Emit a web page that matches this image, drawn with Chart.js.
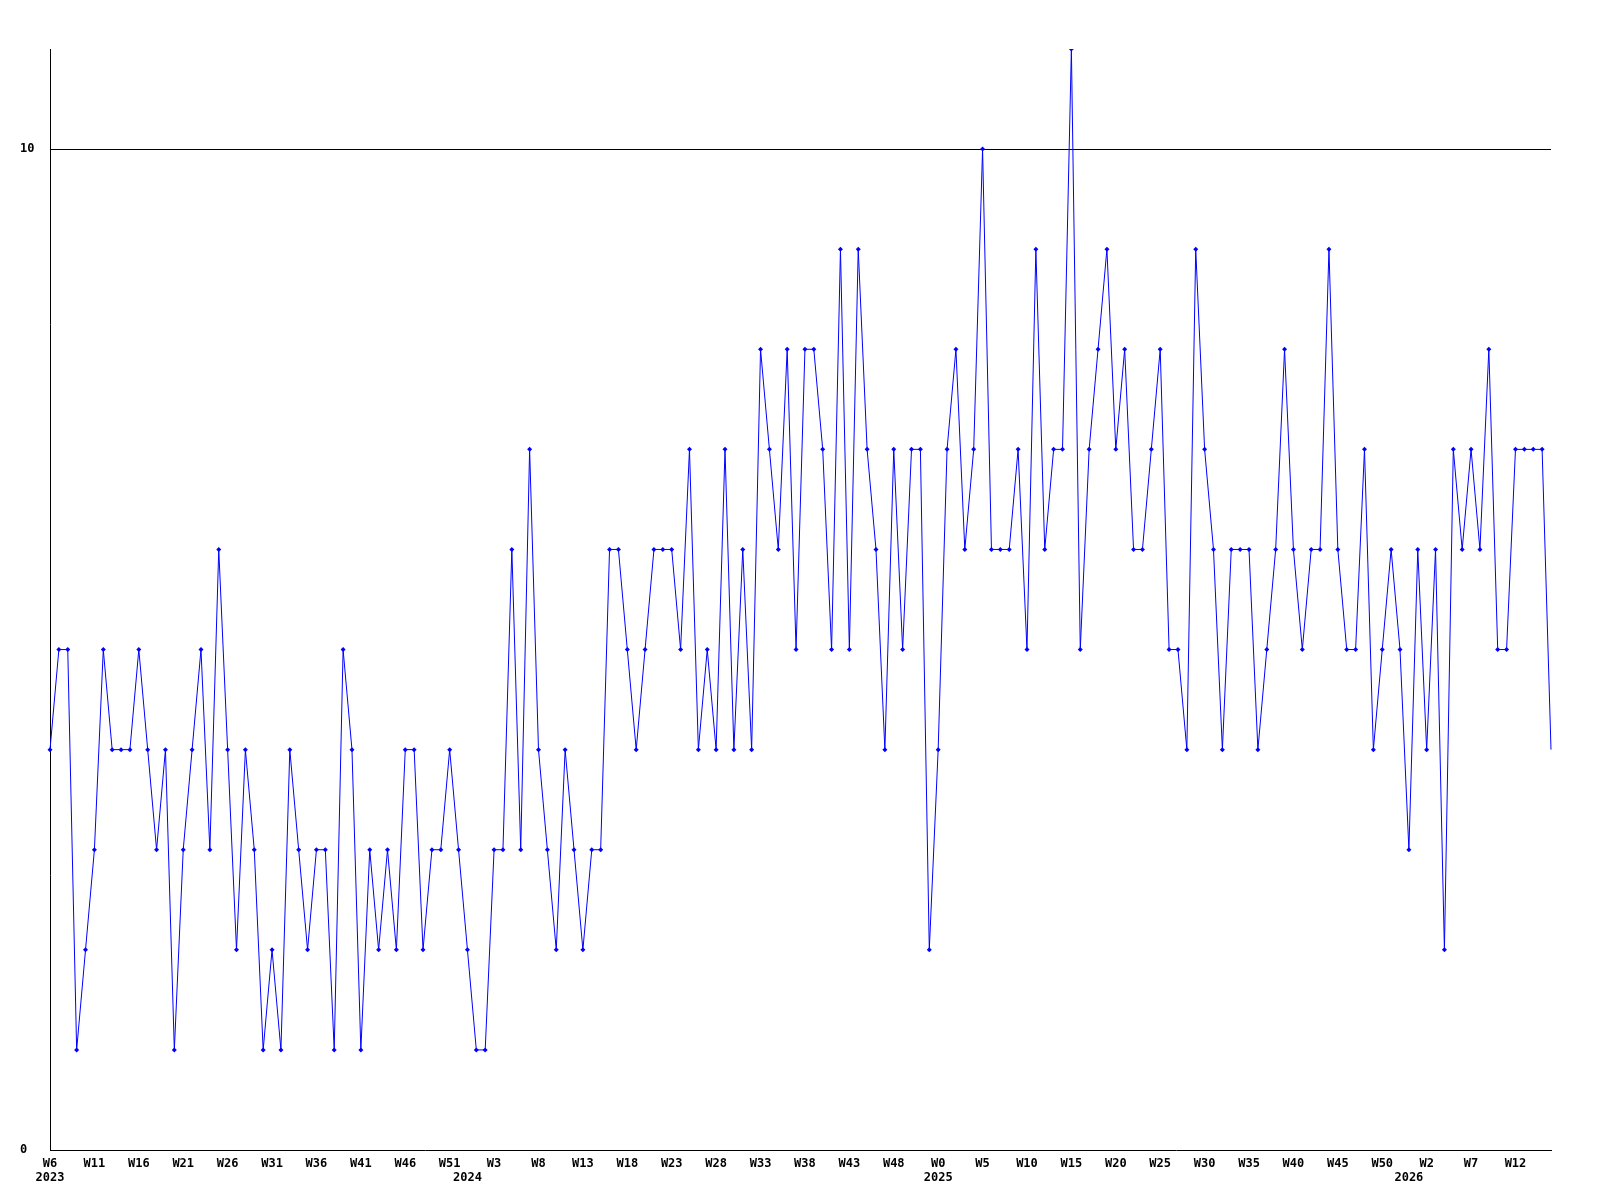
<!DOCTYPE html>
<html>
<head>
<meta charset="utf-8">
<script src="https://cdn.jsdelivr.net/npm/chart.js@4.4.0/dist/chart.umd.min.js"></script>
<style>
  body { margin: 0; background: #fff; }
  canvas { display: block; }
</style>
</head>
<body>
<canvas id="weekly" width="1600" height="1200"></canvas>
<script>
// weeks per year shown on the axis
const years = [2023, 2024, 2025, 2026];
const firstWeek = [6, 0, 0, 0];
const lastWeek = [52, 52, 52, 16];

// one value per week, W6 2023 .. W16 2026
const values = [
  4, 5, 5, 1, 2, 3, 5, 4, 4, 4,
  5, 4, 3, 4, 1, 3, 4, 5, 3, 6,
  4, 2, 4, 3, 1, 2, 1, 4, 3, 2,
  3, 3, 1, 5, 4, 1, 3, 2, 3, 2,
  4, 4, 2, 3, 3, 4, 3, 2, 1, 1,
  3, 3, 6, 3, 7, 4, 3, 2, 4, 3,
  2, 3, 3, 6, 6, 5, 4, 5, 6, 6,
  6, 5, 7, 4, 5, 4, 7, 4, 6, 4,
  8, 7, 6, 8, 5, 8, 8, 7, 5, 9,
  5, 9, 7, 6, 4, 7, 5, 7, 7, 2,
  4, 7, 8, 6, 7, 10, 6, 6, 6, 7,
  5, 9, 6, 7, 7, 11, 5, 7, 8, 9,
  7, 8, 6, 6, 7, 8, 5, 5, 4, 9,
  7, 6, 4, 6, 6, 6, 4, 5, 6, 8,
  6, 5, 6, 6, 9, 6, 5, 5, 7, 4,
  5, 6, 5, 3, 6, 4, 6, 2, 7, 6,
  7, 6, 8, 5, 5, 7, 7, 7, 7, 4
];

const yTicks = [0, 10];

let weekLabels = [];
let yearLabels = [];
years.forEach((yr, i) => {
  for (let w = firstWeek[i]; w <= lastWeek[i]; w++) {
    weekLabels.push('W' + w);
    yearLabels.push(w === firstWeek[i] ? String(yr) : '');
  }
});

const font = { family: 'DejaVu Sans Mono', size: 12, weight: 'bold' };

let weeklyChart = document.getElementById('weekly').getContext('2d');

new Chart(weeklyChart, {
  type: 'line',
  data: {
    labels: weekLabels,
    datasets: [{
      data: values,
      borderColor: '#0000ff',
      backgroundColor: '#0000ff',
      borderWidth: 1,
      tension: 0,
      pointStyle: 'rectRot',
      pointRadius: ctx => ctx.dataIndex === values.length - 1 ? 0 : 2.5,
      pointBorderWidth: 0
    }]
  },
  options: {
    responsive: false,
    animation: false,
    layout: { padding: { top: 49, right: 49, left: 20, bottom: 16 } },
    plugins: {
      legend: { display: false },
      tooltip: { enabled: false }
    },
    scales: {
      x: {
        position: 'bottom',
        offset: false,
        grid: { display: false, drawTicks: false },
        border: { color: '#000' },
        ticks: {
          autoSkip: false,
          maxRotation: 0,
          padding: 7,
          color: '#000',
          font: font,
          callback: (v, i) => i % 5 === 0 ? weekLabels[i] : ''
        },
        afterFit: s => { s.height = 21; }
      },
      year: {
        type: 'category',
        axis: 'x',
        position: 'bottom',
        offset: false,
        grid: { display: false, drawTicks: false },
        border: { display: false },
        ticks: {
          autoSkip: false,
          maxRotation: 0,
          padding: 0,
          color: '#000',
          font: font,
          callback: (v, i) => yearLabels[i]
        },
        afterFit: s => { s.height = 13; }
      },
      y: {
        min: 0,
        max: 11,
        afterBuildTicks: s => { s.ticks = yTicks.map(v => ({ value: v })); },
        grid: {
          drawTicks: false,
          color: c => (c.tick && c.tick.value === 10) ? '#000' : 'rgba(0,0,0,0)'
        },
        border: { color: '#000' },
        ticks: { padding: 0, crossAlign: 'far', color: '#000', font: font },
        afterFit: s => { s.width = 30; }
      }
    }
  }
});
</script>
</body>
</html>
